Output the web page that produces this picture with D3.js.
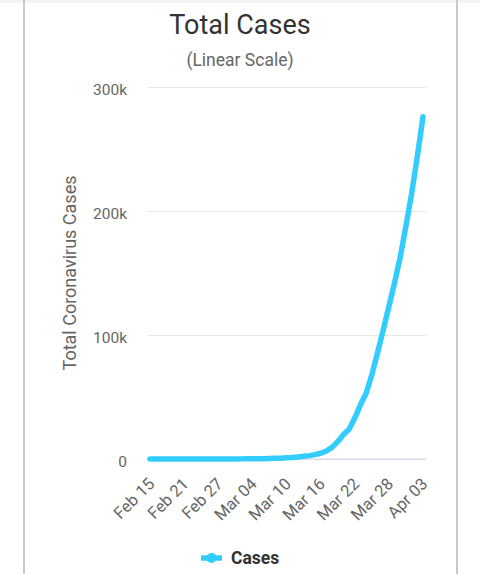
<!DOCTYPE html>
<html>
<head>
<meta charset="utf-8">
<script src="https://cdn.jsdelivr.net/npm/d3@7"></script>
<style>
  body { margin: 0; background: #fff; }
  text { font-family: Roboto, "Noto Sans", sans-serif; }
</style>
</head>
<body>
<svg id="chart"></svg>
<script>
// total cases per day, Feb 15 .. Apr 03
const dates = ["2020-02-15","2020-02-16","2020-02-17","2020-02-18","2020-02-19","2020-02-20","2020-02-21",
  "2020-02-22","2020-02-23","2020-02-24","2020-02-25","2020-02-26","2020-02-27","2020-02-28","2020-02-29",
  "2020-03-01","2020-03-02","2020-03-03","2020-03-04","2020-03-05","2020-03-06","2020-03-07","2020-03-08",
  "2020-03-09","2020-03-10","2020-03-11","2020-03-12","2020-03-13","2020-03-14","2020-03-15","2020-03-16",
  "2020-03-17","2020-03-18","2020-03-19","2020-03-20","2020-03-21","2020-03-22","2020-03-23","2020-03-24",
  "2020-03-25","2020-03-26","2020-03-27","2020-03-28","2020-03-29","2020-03-30","2020-03-31","2020-04-01",
  "2020-04-02","2020-04-03"];
const cases = [15, 15, 15, 15, 15, 15, 35,
  35, 35, 53, 53, 59, 60, 62, 70,
  76, 101, 122, 153, 221, 278, 417, 537,
  605, 959, 1281, 1663, 2179, 2726, 3499, 4632,
  6421, 9400, 14000, 19600, 24000, 33000, 43700, 53000,
  68000, 85500, 104000, 123000, 142000, 163000, 188000, 214000,
  244000, 276000];
const xTicks = ["2020-02-15","2020-02-21","2020-02-27","2020-03-04","2020-03-10","2020-03-16","2020-03-22","2020-03-28","2020-04-03"];
const yTicks = [0, 100000, 200000, 300000];
const yTickLabels = ["0", "100k", "200k", "300k"];

const W = 480, H = 574;
const parse = d3.timeParse("%Y-%m-%d");
const data = dates.map((d, i) => ({date: parse(d), value: cases[i]}));

const svg = d3.select("#chart").attr("width", W).attr("height", H);
svg.append("rect").attr("width", W).attr("height", H).attr("fill", "#fff");

// card borders
svg.append("rect").attr("x", 0).attr("y", 0).attr("width", W).attr("height", 3).attr("fill", "#f3f3f3");
svg.append("rect").attr("x", 23).attr("y", 0).attr("width", 2).attr("height", H).attr("fill", "#c9c9c9");
svg.append("rect").attr("x", 456).attr("y", 0).attr("width", 2).attr("height", H).attr("fill", "#c9c9c9");

const x = d3.scaleTime()
  .domain(d3.extent(data, d => d.date))
  .range([150, 423]);
const y = d3.scaleLinear()
  .domain([0, 300000])
  .range([459, 87]);

svg.append("text")
  .attr("x", 240).attr("y", 34)
  .attr("text-anchor", "middle")
  .attr("font-size", 27)
  .attr("fill", "#333")
  .text("Total Cases");

svg.append("text")
  .attr("x", 240).attr("y", 66)
  .attr("text-anchor", "middle")
  .attr("font-size", 17.5)
  .attr("fill", "#666")
  .text("(Linear Scale)");

// gridlines + y labels
const yAxis = svg.append("g")
  .call(d3.axisLeft(y).tickValues(yTicks).tickSize(-(426 - 148))
    .tickFormat((d, i) => yTickLabels[i]))
  .attr("transform", "translate(148,0)");
yAxis.select(".domain").remove();
yAxis.selectAll(".tick line").attr("stroke", "#e6e6e6");
yAxis.selectAll(".tick text")
  .attr("x", -21).attr("dy", "0.5em")
  .attr("font-size", 15.5)
  .attr("fill", "#666")
  .style("font-family", "Roboto");

// x axis
svg.append("line")
  .attr("x1", 148).attr("x2", 426)
  .attr("y1", 459).attr("y2", 459)
  .attr("stroke", "#ccd6eb");

const xAxis = svg.append("g")
  .attr("transform", "translate(0,459)")
  .call(d3.axisBottom(x).tickValues(xTicks.map(parse)).tickSize(0)
    .tickFormat(d3.timeFormat("%b %d")));
xAxis.select(".domain").remove();
xAxis.selectAll(".tick text")
  .attr("font-size", 16.5)
  .attr("fill", "#666")
  .style("font-family", "Roboto")
  .attr("text-anchor", "end")
  .attr("dy", 0)
  .attr("y", 0)
  .attr("transform", "translate(5,26) rotate(-45)");

svg.append("text")
  .attr("transform", "translate(76,273) rotate(-90)")
  .attr("text-anchor", "middle")
  .attr("font-size", 18)
  .attr("fill", "#666")
  .text("Total Coronavirus Cases");

const line = d3.line()
  .x(d => x(d.date))
  .y(d => y(d.value));

svg.append("path")
  .datum(data)
  .attr("d", line)
  .attr("fill", "none")
  .attr("stroke", "#33ccff")
  .attr("stroke-width", 5.5)
  .attr("stroke-linejoin", "round")
  .attr("stroke-linecap", "round");

// legend
const lg = svg.append("g").attr("transform", "translate(0,558)");
lg.append("line")
  .attr("x1", 201).attr("x2", 222)
  .attr("stroke", "#33ccff").attr("stroke-width", 5.5);
lg.append("circle")
  .attr("cx", 211.5).attr("r", 5)
  .attr("fill", "#33ccff");
lg.append("text")
  .attr("x", 231).attr("y", 6)
  .attr("font-size", 17.5)
  .attr("font-weight", "bold")
  .attr("fill", "#333")
  .text("Cases");
</script>
</body>
</html>
